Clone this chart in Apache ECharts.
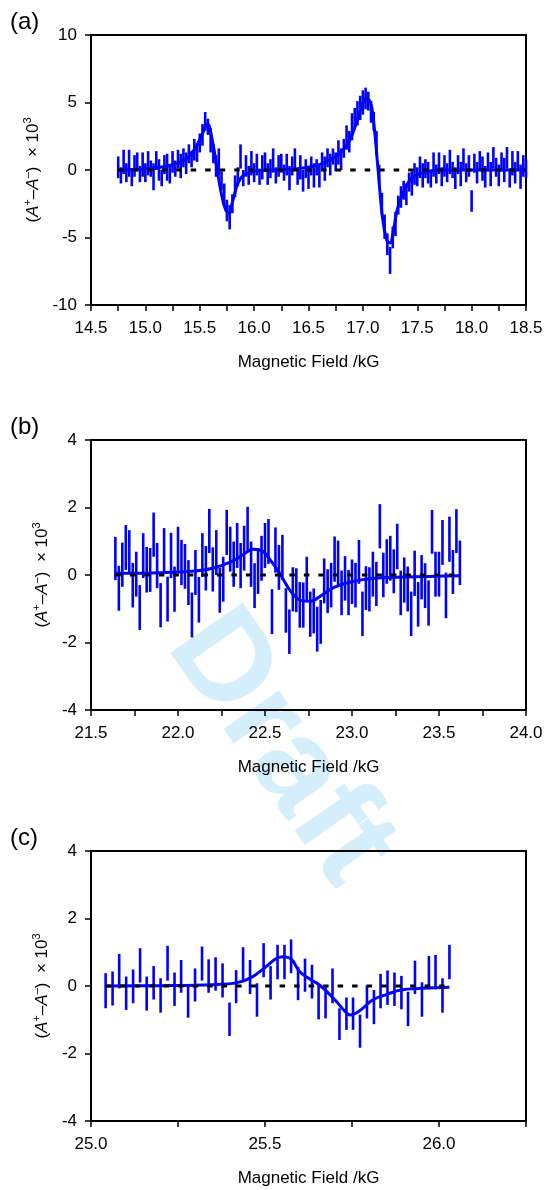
<!DOCTYPE html>
<html>
<head>
<meta charset="utf-8">
<script src="https://cdn.jsdelivr.net/npm/echarts@6/dist/echarts.min.js"></script>
<style>
html,body{margin:0;padding:0;background:#fff;}
#chart{width:548px;height:1190px;}
</style>
</head>
<body>
<div id="chart"></div>
<script>
// ---------- Panel (a) ----------
const xA = [14.75,14.775,14.8,14.825,14.85,14.875,14.9,14.925,14.95,14.975,
15,15.025,15.05,15.075,15.1,15.125,15.15,15.175,15.2,15.225,
15.25,15.275,15.3,15.325,15.35,15.375,15.4,15.425,15.45,15.475,
15.5,15.525,15.55,15.575,15.6,15.625,15.65,15.675,15.7,15.725,
15.75,15.775,15.8,15.825,15.85,15.875,15.9,15.925,15.95,15.975,
16,16.025,16.05,16.075,16.1,16.125,16.15,16.175,16.2,16.225,
16.25,16.275,16.3,16.325,16.35,16.375,16.4,16.425,16.45,16.475,
16.5,16.525,16.55,16.575,16.6,16.625,16.65,16.675,16.7,16.725,
16.75,16.775,16.8,16.825,16.85,16.875,16.9,16.925,16.95,16.975,
17,17.025,17.05,17.075,17.1,17.125,17.15,17.175,17.2,17.225,
17.25,17.275,17.3,17.325,17.35,17.375,17.4,17.425,17.45,17.475,
17.5,17.525,17.55,17.575,17.6,17.625,17.65,17.675,17.7,17.725,
17.75,17.775,17.8,17.825,17.85,17.875,17.9,17.925,17.95,17.975,
18,18.025,18.05,18.075,18.1,18.125,18.15,18.175,18.2,18.225,
18.25,18.275,18.3,18.325,18.35,18.375,18.4,18.425,18.45,18.475,18.5];
const valA = [0.2,-0.4,0.6,-0.2,0.5,-0.6,0.3,0.6,-0.3,0.4,
-0.2,0.5,0.1,-0.5,0.7,0.0,-0.6,0.4,0.2,-0.3,
0.6,0.1,0.8,0.3,0.9,0.5,1.2,0.8,1.5,1.3,
2.0,2.6,3.6,3.2,2.2,1.2,0.3,0.6,-0.8,-1.8,
-3.0,-3.5,-2.5,-1.2,-0.5,1.0,-0.6,0.3,-0.4,0.5,
-0.2,0.4,-0.5,0.2,0.6,-0.3,0.1,0.7,-0.4,0.3,
0.5,-0.2,0.4,-0.6,0.3,0.8,-0.5,0.2,-0.8,0.1,
-0.6,0.3,-0.4,0.2,-0.5,0.6,0.1,0.9,0.4,1.0,
0.6,1.3,0.8,1.6,2.4,2.1,3.2,3.8,4.2,4.6,
5.0,5.3,5.1,4.3,3.6,2.0,-0.3,-2.5,-4.2,-5.5,
-6.7,-5.0,-4.0,-2.6,-2.0,-1.5,-1.8,-0.9,-1.0,-0.3,
-0.5,0.2,-0.4,0.1,-0.2,-0.7,0.4,-0.3,0.5,-0.5,
0.3,-0.2,0.6,0.0,-0.6,0.4,-0.3,0.8,-0.2,0.3,
-2.3,0.5,-0.2,0.7,0.1,-0.5,0.6,-0.3,0.9,0.2,
-0.4,0.6,0.0,0.9,-0.6,0.5,-0.2,0.7,-0.5,0.3,0.1];
const errA = [0.8,0.6,0.9,0.7,1.0,0.6,0.8,0.7,0.6,0.9,
0.7,0.9,0.6,1.0,0.7,0.8,0.6,0.7,1.0,0.7,
0.8,0.6,0.7,0.9,0.7,0.8,0.7,0.6,0.8,0.7,
0.7,0.8,0.7,0.6,0.9,0.7,0.8,1.0,0.7,0.8,
0.8,0.9,0.7,0.8,0.7,0.9,0.6,0.8,0.7,0.9,
0.7,0.8,0.6,0.9,0.7,0.8,0.7,0.9,0.6,0.8,
0.7,0.6,0.8,0.9,0.7,0.8,0.6,0.9,0.8,0.7,
0.8,0.7,0.9,0.6,0.8,0.7,0.9,0.7,0.8,0.6,
0.7,0.9,0.8,0.7,0.9,0.8,1.0,0.8,0.9,0.9,
0.9,0.8,0.7,0.8,0.7,0.9,0.7,0.8,0.9,0.8,
1.0,0.8,0.9,0.7,0.8,0.7,0.8,0.7,0.9,0.8,
0.7,0.8,0.9,0.7,0.8,0.6,0.9,0.7,0.8,0.7,
0.8,0.7,0.9,0.6,0.8,0.7,0.9,0.8,0.7,0.8,
0.8,0.7,0.8,0.7,0.9,0.8,0.7,0.9,0.8,0.7,
0.8,0.7,0.9,0.8,0.7,0.9,0.8,0.7,0.9,0.8,0.7];
const fitAX = [14.75,15.0,15.2,15.35,15.45,15.52,15.57,15.62,15.66,15.70,15.74,15.77,15.80,15.85,15.9,16.0,16.2,16.4,16.6,16.75,16.85,16.92,16.98,17.03,17.07,17.10,17.14,17.18,17.22,17.25,17.28,17.32,17.38,17.45,17.55,17.7,18.5];
const fitAY = [0.0,0.1,0.3,0.7,1.5,2.6,3.4,2.0,0.0,-1.8,-3.0,-3.2,-2.4,-1.0,-0.4,-0.1,0.0,0.1,0.4,1.0,1.8,3.0,4.5,5.3,5.0,3.5,0.0,-3.5,-5.2,-5.4,-4.5,-2.8,-1.5,-0.6,-0.2,0.0,0.0];

// ---------- Panel (b) ----------
const xB = [21.64,21.66,21.68,21.70,21.72,21.74,21.76,21.78,21.80,21.82,
21.84,21.86,21.88,21.90,21.92,21.94,21.96,21.98,22.00,22.02,
22.04,22.06,22.08,22.10,22.12,22.14,22.16,22.18,22.20,22.22,
22.24,22.26,22.28,22.30,22.32,22.34,22.36,22.38,22.40,22.42,
22.44,22.46,22.48,22.50,22.52,22.54,22.56,22.58,22.60,22.62,
22.64,22.66,22.68,22.70,22.72,22.74,22.76,22.78,22.80,22.82,
22.84,22.86,22.88,22.90,22.92,22.94,22.96,22.98,23.00,23.02,
23.04,23.06,23.08,23.10,23.12,23.14,23.16,23.18,23.20,23.22,
23.24,23.26,23.28,23.30,23.32,23.34,23.36,23.38,23.40,23.42,
23.44,23.46,23.48,23.50,23.52,23.54,23.56,23.58,23.60,23.62];
const hiB = [1.13,0.27,0.96,1.48,1.33,0.36,0.69,-0.30,1.24,0.83,
0.80,1.85,0.95,-0.24,1.39,-0.05,1.25,0.25,1.43,1.04,
0.92,0.44,-0.52,0.74,-0.06,1.24,0.86,1.96,0.82,1.33,
0.21,0.54,1.93,1.43,0.99,1.54,0.95,1.46,2.02,0.99,
0.35,0.74,1.16,1.54,1.66,-0.42,1.41,0.89,1.19,-0.39,
-1.02,0.23,0.20,-0.21,-0.22,0.54,-0.49,-0.40,-0.94,-0.74,
0.49,0.17,0.36,1.14,1.02,0.13,0.56,0.15,0.46,0.36,
1.04,-0.49,0.26,0.23,0.69,0.39,2.10,0.66,1.06,1.16,
0.76,1.52,0.13,0.52,0.25,-0.49,0.72,-0.21,0.59,0.35,
-0.16,1.93,0.69,0.69,1.63,0.07,1.73,0.74,1.95,1.02];
const loB = [-0.15,-1.06,-0.35,0.15,0.06,-0.96,-0.64,-1.63,-0.09,-0.52,
-0.50,0.54,-0.39,-1.55,0.07,-1.38,-0.09,-1.09,0.10,-0.30,
-0.41,-0.89,-1.85,-0.59,-1.41,-0.06,-0.46,0.65,-0.49,0.00,
-1.12,-0.79,0.59,0.10,-0.35,0.21,-0.39,0.13,0.69,-0.35,
-0.98,-0.56,-0.17,0.21,0.33,-1.75,0.07,-0.44,-0.15,-1.71,
-2.34,-1.08,-1.10,-1.56,-1.56,-0.79,-1.83,-1.73,-2.27,-2.04,
-0.84,-1.13,-0.96,-0.20,-0.32,-1.19,-0.76,-1.19,-0.86,-0.96,
-0.26,-1.81,-1.04,-1.08,-0.64,-0.92,0.79,-0.66,-0.26,-0.17,
-0.54,0.17,-1.19,-0.82,-1.08,-1.81,-0.62,-1.53,-0.72,-0.98,
-1.50,0.63,-0.64,-0.64,0.30,-1.28,0.39,-0.56,0.65,-0.30];
const fitBX = [21.64,21.9,22.1,22.2,22.3,22.38,22.43,22.48,22.53,22.59,22.65,22.71,22.76,22.82,22.9,23.0,23.1,23.3,23.62];
const fitBY = [0.05,0.07,0.12,0.2,0.38,0.62,0.76,0.72,0.45,0.0,-0.5,-0.76,-0.78,-0.62,-0.36,-0.2,-0.11,-0.06,-0.02];

// ---------- Panel (c) ----------
const xC = [25.042,25.062,25.081,25.101,25.121,25.141,25.160,25.180,25.200,25.220,
25.240,25.259,25.279,25.299,25.319,25.338,25.358,25.378,25.398,25.417,
25.437,25.457,25.477,25.496,25.516,25.536,25.556,25.575,25.595,25.615,
25.635,25.654,25.674,25.694,25.714,25.734,25.753,25.773,25.793,25.813,
25.832,25.852,25.872,25.892,25.911,25.931,25.951,25.971,25.990,26.010,26.030];
const hiC = [0.38,0.43,0.95,0.28,0.49,1.12,0.28,0.59,0.23,1.19,
0.40,0.77,0.06,0.52,1.17,0.79,0.85,0.67,-0.49,0.47,
1.15,0.77,0.08,1.27,0.59,1.22,1.22,1.38,0.57,0.81,
0.63,0.02,0.02,0.52,-0.66,-0.34,-0.34,-0.85,0.02,-0.12,
0.36,0.46,0.40,0.30,-0.17,0.75,0.11,0.89,0.92,0.23,1.22];
const loC = [-0.66,-0.58,-0.07,-0.71,-0.51,0.10,-0.73,-0.40,-0.79,0.16,
-0.59,-0.20,-0.94,-0.46,0.16,-0.20,-0.14,-0.34,-1.48,-0.51,
0.13,-0.24,-0.91,0.26,-0.40,0.20,0.20,0.38,-0.42,-0.17,
-0.37,-0.99,-0.96,-0.51,-1.60,-1.30,-1.30,-1.83,-0.96,-1.13,
-0.66,-0.56,-0.59,-0.69,-1.19,-0.24,-0.91,-0.10,-0.10,-0.79,0.20];
const fitCX = [25.042,25.2,25.35,25.42,25.46,25.5,25.53,25.55,25.575,25.6,25.63,25.66,25.7,25.73,25.745,25.77,25.81,25.85,25.89,25.95,26.03];
const fitCY = [0.0,0.01,0.04,0.1,0.25,0.55,0.8,0.87,0.8,0.42,0.2,0.0,-0.4,-0.75,-0.86,-0.75,-0.41,-0.25,-0.12,-0.07,-0.04];

// axis settings
const panelLabels = ['(a)','(b)','(c)'];
const xRanges = [[14.5,18.5],[21.5,24.0],[25.0,26.25]];
const yRanges = [[-10,10,5],[-4,4,2],[-4,4,2]];
const xTitle = 'Magnetic Field /kG';

const FONT = 'Liberation Sans, Arial, sans-serif';
const BLUE = '#0000ff';
const gridTops = [35, 440, 851];

function zip(a, b) { return a.map((v, i) => [v, b[i]]); }

const panels = [
  { bars: xA.map((x, i) => [x, valA[i] - errA[i], valA[i] + errA[i]]), fit: zip(fitAX, fitAY), zero: [[xA[0],0],[xA[xA.length-1],0]] },
  { bars: xB.map((x, i) => [x, loB[i], hiB[i]]), fit: zip(fitBX, fitBY), zero: [[xB[0],0],[xB[xB.length-1],0]] },
  { bars: xC.map((x, i) => [x, loC[i], hiC[i]]), fit: zip(fitCX, fitCY), zero: [[xC[0],0],[xC[xC.length-1],0]] }
];

const grids = [], xAxes = [], yAxes = [], series = [], graphics = [];
panels.forEach((p, k) => {
  grids.push({ left: 91, right: 22, top: gridTops[k], height: 270, show: true, borderColor: '#000', borderWidth: 2, backgroundColor: 'transparent' });
  xAxes.push({
    type: 'value', gridIndex: k, min: xRanges[k][0], max: xRanges[k][1], interval: 0.25,
    axisLine: { show: true, onZero: false, lineStyle: { color: '#000', width: 2 } },
    axisTick: { show: true, inside: false, length: 6, lineStyle: { color: '#000', width: 1.5 } },
    axisLabel: { margin: 15, color: '#000', fontFamily: FONT, fontSize: 17,
      formatter: v => (Math.abs(v * 2 - Math.round(v * 2)) < 1e-6) ? v.toFixed(1) : '' },
    splitLine: { show: false },
    name: xTitle, nameLocation: 'middle', nameGap: 49,
    nameTextStyle: { color: '#000', fontFamily: FONT, fontSize: 17 }
  });
  yAxes.push({
    type: 'value', gridIndex: k, min: yRanges[k][0], max: yRanges[k][1], interval: yRanges[k][2],
    axisLine: { show: true, onZero: false, lineStyle: { color: '#000', width: 2 } },
    axisTick: { show: true, inside: false, length: 6, lineStyle: { color: '#000', width: 1.5 } },
    axisLabel: { margin: 14, color: '#000', fontFamily: FONT, fontSize: 17 },
    splitLine: { show: false },
    name: '{t|(}{i|A}{s|+}{t|\u2013}{i|A}{s|\u2013}{t|)  \u00d7 10}{s|3}',
    nameLocation: 'middle', nameGap: 36, nameRotate: 90,
    nameTextStyle: {
      rich: {
        t: { fontFamily: FONT, fontSize: 17, color: '#000', lineHeight: 22 },
        i: { fontFamily: FONT, fontSize: 17, fontStyle: 'italic', color: '#000', lineHeight: 22 },
        s: { fontFamily: FONT, fontSize: 11, color: '#000', lineHeight: 12, verticalAlign: 'top' }
      }
    }
  });
  series.push({
    type: 'custom', xAxisIndex: k, yAxisIndex: k, data: p.bars, z: 3,
    encode: { x: 0, y: [1, 2] },
    renderItem: (params, api) => {
      const a = api.coord([api.value(0), api.value(1)]);
      const b = api.coord([api.value(0), api.value(2)]);
      return { type: 'line', shape: { x1: a[0], y1: a[1], x2: b[0], y2: b[1] },
        style: { stroke: BLUE, lineWidth: 2.6 } };
    }
  });
  series.push({
    type: 'line', xAxisIndex: k, yAxisIndex: k, data: p.fit, smooth: 0.4, showSymbol: false, z: 4,
    lineStyle: { color: BLUE, width: 3 }
  });
  series.push({
    type: 'line', xAxisIndex: k, yAxisIndex: k, data: p.zero, showSymbol: false, z: 5,
    lineStyle: { color: '#000', width: 3, type: [5.5, 9] }
  });
  graphics.push({ type: 'text', left: 10, top: gridTops[k] - 25, z: 10,
    style: { text: panelLabels[k], font: '24px ' + FONT, fill: '#000' } });
});

graphics.push({
  type: 'text', x: 280, y: 748, rotation: -0.96, z: -1, zlevel: 0,
  style: { text: 'Draft', font: 'bold 128px ' + FONT, fill: 'rgb(213,238,252)', align: 'center', verticalAlign: 'middle' }
});

const chart = echarts.init(document.getElementById('chart'), null, { renderer: 'canvas' });
chart.setOption({
  animation: false,
  backgroundColor: '#fff',
  grid: grids, xAxis: xAxes, yAxis: yAxes, series: series,
  graphic: graphics
});
</script>
</body>
</html>
